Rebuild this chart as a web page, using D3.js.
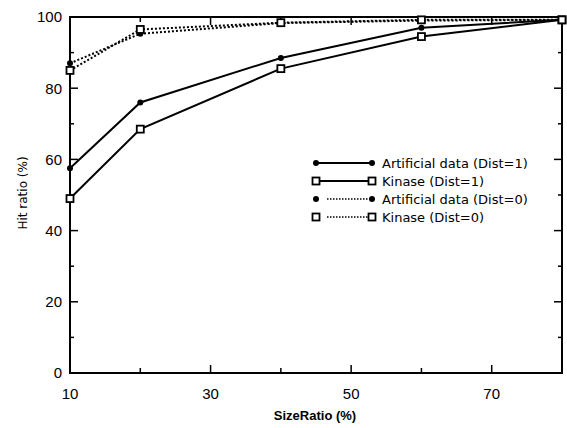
<!DOCTYPE html>
<html><head><meta charset="utf-8">
<script src="https://cdn.jsdelivr.net/npm/d3@7"></script>
<style>
html,body{margin:0;padding:0;background:#fff;}
svg{display:block;}
text{font-family:"Liberation Sans",Arial,sans-serif;fill:#000;}
</style></head>
<body>
<script>
const sizeRatio = [10, 20, 40, 60, 80];
const artificialDist1 = [57.5, 76, 88.5, 97, 99.2];
const kinaseDist1 = [49, 68.5, 85.5, 94.5, 99.2];
const artificialDist0 = [87, 95.3, 98.3, 99, 99.2];
const kinaseDist0 = [85, 96.5, 98.4, 99.2, 99.2];
const xTickLabels = [10, 30, 50, 70];
const yTickLabels = [0, 20, 40, 60, 80, 100];
const seriesNames = ["Artificial data (Dist=1)", "Kinase (Dist=1)", "Artificial data (Dist=0)", "Kinase (Dist=0)"];

const W = 567, H = 428;
const L = 70, R = 562, T = 17, B = 373;
const svg = d3.select("body").append("svg").attr("width", W).attr("height", H);
const x = d3.scaleLinear().domain([10, 80]).range([L, R]);
const y = d3.scaleLinear().domain([0, 100]).range([B, T]);

const series = [
  {name: seriesNames[0], vals: artificialDist1, dash: null, marker: "dot"},
  {name: seriesNames[1], vals: kinaseDist1, dash: null, marker: "square"},
  {name: seriesNames[2], vals: artificialDist0, dash: "2,2", marker: "dot"},
  {name: seriesNames[3], vals: kinaseDist0, dash: "2,2", marker: "square"}
];

// frame
svg.append("rect").attr("x", L).attr("y", T).attr("width", R - L).attr("height", B - T)
  .attr("fill", "none").attr("stroke", "#000").attr("stroke-width", 2);

// ticks (inward on all sides)
const g = svg.append("g").attr("stroke", "#000").attr("stroke-width", 1.5);
d3.range(0, 101, 10).forEach(v => {
  const len = v % 20 === 0 ? 8 : 4;
  if (v === 0 || v === 100) return;
  g.append("line").attr("x1", L).attr("x2", L + len).attr("y1", y(v)).attr("y2", y(v));
  g.append("line").attr("x1", R).attr("x2", R - len).attr("y1", y(v)).attr("y2", y(v));
});
d3.range(20, 80, 10).forEach(v => {
  const len = (v - 10) % 20 === 0 ? 8 : 5;
  g.append("line").attr("x1", x(v)).attr("x2", x(v)).attr("y1", B).attr("y2", B - len);
  g.append("line").attr("x1", x(v)).attr("x2", x(v)).attr("y1", T).attr("y2", T + len);
});

// tick labels
svg.selectAll(".yl").data(yTickLabels).enter().append("text")
  .attr("x", L - 8).attr("y", d => y(d)).attr("dy", "0.36em")
  .attr("text-anchor", "end").attr("font-size", 15).text(d => d);
svg.selectAll(".xl").data(xTickLabels).enter().append("text")
  .attr("x", d => x(d)).attr("y", 399)
  .attr("text-anchor", "middle").attr("font-size", 15).text(d => d);

// axis titles
svg.append("text").attr("x", 315).attr("y", 420).attr("text-anchor", "middle")
  .attr("font-size", 13).attr("font-weight", "bold").text("SizeRatio (%)");
svg.append("text").attr("transform", "translate(27,193) rotate(-90)")
  .attr("text-anchor", "middle").attr("font-size", 12)
  .style("font-family", "'DejaVu Sans', sans-serif").text("Hit ratio (%)");

// lines
const line = d3.line().x((d, i) => x(sizeRatio[i])).y(d => y(d));
series.forEach(s => {
  svg.append("path").datum(s.vals).attr("d", line).attr("fill", "none")
    .attr("stroke", "#000").attr("stroke-width", 2)
    .attr("stroke-dasharray", s.dash);
});

function drawMarker(sel, type, cx, cy) {
  if (type === "dot") {
    sel.append("circle").attr("cx", cx).attr("cy", cy).attr("r", 3).attr("fill", "#000");
  } else {
    sel.append("rect").attr("x", cx - 3.5).attr("y", cy - 3.5).attr("width", 7).attr("height", 7)
      .attr("fill", "#fff").attr("stroke", "#000").attr("stroke-width", 1.8);
  }
}
series.forEach(s => {
  s.vals.forEach((v, i) => drawMarker(svg, s.marker, x(sizeRatio[i]), y(v)));
});

// legend
const legY = [163, 181, 199, 217];
series.forEach((s, i) => {
  const ly = legY[i];
  if (s.dash) {
    svg.append("line").attr("x1", 327).attr("x2", 372).attr("y1", ly).attr("y2", ly)
      .attr("stroke", "#000").attr("stroke-width", 1.5).attr("stroke-dasharray", "1.5,1.5");
  } else {
    svg.append("line").attr("x1", 315).attr("x2", 372).attr("y1", ly).attr("y2", ly)
      .attr("stroke", "#000").attr("stroke-width", 2);
  }
  drawMarker(svg, s.marker, 316, ly);
  drawMarker(svg, s.marker, 372, ly);
  svg.append("text").attr("x", 382).attr("y", ly).attr("dy", "0.36em")
    .attr("font-size", 13).style("font-family", "'DejaVu Sans', sans-serif").text(s.name);
});
</script>
</body></html>
